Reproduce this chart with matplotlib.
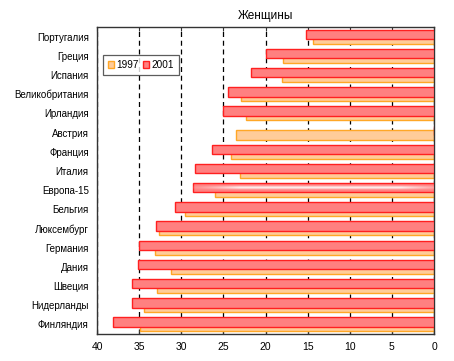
import numpy as np
import matplotlib
matplotlib.use("Agg")
import matplotlib.pyplot as plt

countries = ["Португалия", "Греция", "Испания", "Великобритания", "Ирландия",
             "Австрия", "Франция", "Италия", "Европа-15", "Бельгия",
             "Люксембург", "Германия", "Дания", "Швеция", "Нидерланды", "Финляндия"]
v1997 = [14.4, 17.9, 18.0, 22.9, 22.3, 23.5, 24.1, 23.0, 26.0, 29.6,
         32.6, 33.1, 31.2, 32.9, 34.4, 34.9]
v2001 = [15.2, 20.0, 21.7, 24.4, 25.1, 0.0, 26.3, 28.4, 28.6, 30.7,
         33.0, 35.0, 35.1, 35.8, 35.9, 38.1]
xticks = [0, 5, 10, 15, 20, 25, 30, 35, 40]
title = "Женщины"
highlight = "Европа-15"

plt.rcParams['font.family'] = ['Liberation Sans', 'DejaVu Sans']

fig = plt.figure(figsize=(4.54, 3.61), dpi=100)
ax = fig.add_axes([97/454, 1-334/361, 337/454, 307/361])

y = np.arange(len(countries))
h = 0.49
b97 = ax.barh(y + 0.12, v1997, height=h, color="#FFCC99", edgecolor="#FFA726",
              linewidth=1.0, label="1997", zorder=2)
b01 = ax.barh(y - 0.12, v2001, height=h, color="#FF8080", edgecolor="#FF2020",
              linewidth=1.0, label="2001", zorder=3)

# highlight glow on the Europe-15 bar
idx = countries.index(highlight)
val = v2001[idx]
nx, ny = 300, 60
xs = np.linspace(0, 1, nx)
ys = np.linspace(-1, 1, ny)
X, Y = np.meshgrid(xs, ys)
xprof = np.clip(np.sin(np.pi * (X * 0.85 + 0.05)) * 1.6, 0, 1) ** 1.5
yprof = np.exp(-(Y / 0.35) ** 2)
alpha = 0.9 * xprof * yprof
rgba = np.ones((ny, nx, 4))
rgba[..., 3] = alpha
yc = idx - 0.12
ax.imshow(rgba, extent=[val, 0, yc + h / 2 - 0.03, yc - h / 2 + 0.03], aspect='auto',
          zorder=3.5, interpolation='bilinear')

ax.set_xlim(40, 0)
ax.set_ylim(len(countries) - 0.5, -0.5)
ax.set_xticks(xticks)
ax.set_yticks(y)
ax.set_yticklabels(countries, fontsize=7)
ax.tick_params(axis='x', labelsize=7.5, direction='in', length=3, top=True,
               color="#333333", pad=6)
ax.tick_params(axis='y', length=0, pad=6)
ax.xaxis.grid(True, linestyle=(0, (4, 3)), color="#000000", linewidth=0.9)
ax.set_axisbelow(True)
for s in ax.spines.values():
    s.set_color("#333333")
    s.set_linewidth(1.0)
ax.set_title(title, fontsize=8.5, pad=6)

leg = ax.legend(handles=[b97, b01], loc='upper left', bbox_to_anchor=(0.017, 0.91),
                ncol=2, fontsize=7.2, frameon=True, fancybox=False,
                handlelength=0.65, handleheight=0.7, handletextpad=0.25,
                columnspacing=0.35, borderpad=0.5, borderaxespad=0)
leg.get_frame().set_edgecolor("#333333")
leg.get_frame().set_linewidth(0.9)

fig.savefig("out.png", dpi=100)
